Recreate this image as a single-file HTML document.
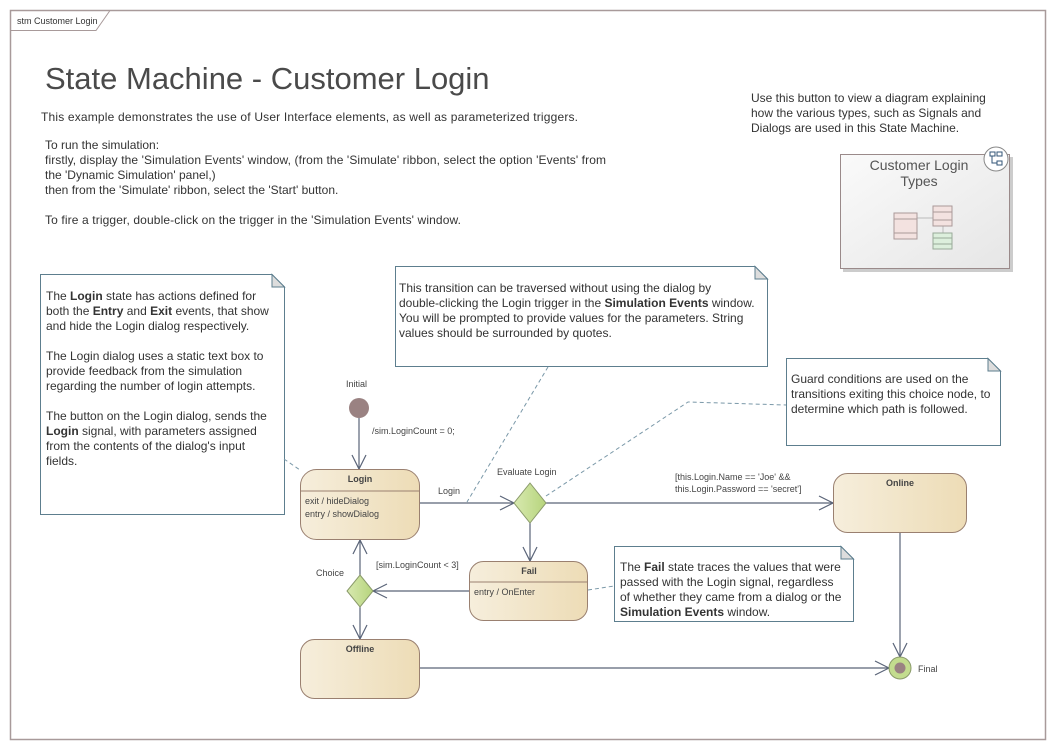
<!DOCTYPE html>
<html><head><meta charset="utf-8"><style>
html,body{margin:0;padding:0;background:#fff}
svg{display:block}
text{font-family:"Liberation Sans",Arial,sans-serif;fill:#333}
.n{font-size:12px}
.s{font-size:9px;fill:#444}
.b{font-weight:bold}
</style></head><body>
<svg width="1056" height="750" viewBox="0 0 1056 750" xmlns="http://www.w3.org/2000/svg">
<defs>
<linearGradient id="st" x1="0" x2="1" y1="0" y2="0"><stop offset="0" stop-color="#f6eedc"/><stop offset="1" stop-color="#eddcb6"/></linearGradient>
<linearGradient id="dm" x1="0" x2="1"><stop offset="0" stop-color="#d8e9b0"/><stop offset="1" stop-color="#b6d47c"/></linearGradient>
<linearGradient id="gr" x1="0" x2="1" y1="0" y2="1"><stop offset="0" stop-color="#fafafa"/><stop offset="1" stop-color="#e6e6e6"/></linearGradient>
</defs>
<rect x="10.5" y="10.5" width="1035" height="729" fill="#fff" stroke="#a89a9a" stroke-width="1.5"/>
<path d="M10.5 30.5 H96 L110 10.5" fill="none" stroke="#a89a9a"/>
<text x="17" y="24" style="font-size:9px">stm Customer Login</text>

<text x="45" y="89" style="font-size:31px;fill:#4a4a4a">State Machine - Customer Login</text>
<text class="n" x="41" y="121" textLength="537">This example demonstrates the use of User Interface elements, as well as parameterized triggers.</text>
<text class="n" x="45" y="149">To run the simulation:</text>
<text class="n" x="45" y="164" textLength="561">firstly, display the 'Simulation Events' window, (from the 'Simulate' ribbon, select the option 'Events' from</text>
<text class="n" x="45" y="179">the 'Dynamic Simulation' panel,)</text>
<text class="n" x="45" y="194">then from the 'Simulate' ribbon, select the 'Start' button.</text>
<text class="n" x="45" y="224" textLength="416">To fire a trigger, double-click on the trigger in the 'Simulation Events' window.</text>

<text class="n" x="751" y="102">Use this button to view a diagram explaining</text>
<text class="n" x="751" y="117">how the various types, such as Signals and</text>
<text class="n" x="751" y="132">Dialogs are used in this State Machine.</text>

<rect x="843" y="157" width="170" height="115" fill="#ccc"/>
<rect x="840.5" y="154.5" width="169" height="114" fill="url(#gr)" stroke="#9a8a8a"/>
<text x="919" y="170" text-anchor="middle" style="font-size:14px;fill:#555">Customer Login</text>
<text x="919" y="186" text-anchor="middle" style="font-size:14px;fill:#555">Types</text>
<circle cx="996" cy="159" r="12" fill="#fff" stroke="#888"/>
<rect x="990" y="152" width="5" height="4" fill="none" stroke="#357"/><rect x="997" y="152" width="5" height="4" fill="none" stroke="#357"/><rect x="997" y="161" width="5" height="4" fill="none" stroke="#357"/>
<path d="M992 156 V163 H997" fill="none" stroke="#357"/>
<line x1="917" y1="218" x2="933" y2="218" stroke="#bbb"/><line x1="943" y1="226" x2="943" y2="233" stroke="#bbb"/>
<rect x="894" y="213" width="23" height="26" fill="#f3e2e0" stroke="#a99"/><line x1="894" y1="219" x2="917" y2="219" stroke="#a99"/><line x1="894" y1="233" x2="917" y2="233" stroke="#a99"/>
<rect x="933" y="206" width="19" height="20" fill="#f3e2e0" stroke="#a99"/><line x1="933" y1="212" x2="952" y2="212" stroke="#a99"/><line x1="933" y1="220" x2="952" y2="220" stroke="#a99"/>
<rect x="933" y="233" width="19" height="16" fill="#dcefdc" stroke="#9a9"/><line x1="933" y1="238" x2="952" y2="238" stroke="#9a9"/><line x1="933" y1="244" x2="952" y2="244" stroke="#9a9"/>

<g fill="#fff" stroke="#5d7e8e">
<path d="M40.5 274.5 H272 L284.5 287 V514.5 H40.5 Z"/>
<path d="M395.5 266.5 H755 L767.5 279 V366.5 H395.5 Z"/>
<path d="M786.5 358.5 H988 L1000.5 371 V445.5 H786.5 Z"/>
<path d="M614.5 546.5 H841 L853.5 559 V621.5 H614.5 Z"/>
</g>
<g fill="#ddd" stroke="#5d7e8e">
<path d="M272 274.5 V287 H284.5 Z"/><path d="M755 266.5 V279 H767.5 Z"/><path d="M988 358.5 V371 H1000.5 Z"/><path d="M841 546.5 V559 H853.5 Z"/>
</g>
<g class="n">
<text class="n" x="46" y="300">The <tspan class="b">Login</tspan> state has actions defined for</text>
<text class="n" x="46" y="315">both the <tspan class="b">Entry</tspan> and <tspan class="b">Exit</tspan> events, that show</text>
<text class="n" x="46" y="330">and hide the Login dialog respectively.</text>
<text class="n" x="46" y="360">The Login dialog uses a static text box to</text>
<text class="n" x="46" y="375">provide feedback from the simulation</text>
<text class="n" x="46" y="390">regarding the number of login attempts.</text>
<text class="n" x="46" y="420">The button on the Login dialog, sends the</text>
<text class="n" x="46" y="435"><tspan class="b">Login</tspan> signal, with parameters assigned</text>
<text class="n" x="46" y="450">from the contents of the dialog's input</text>
<text class="n" x="46" y="465">fields.</text>

<text class="n" x="399" y="292">This transition can be traversed without using the dialog by</text>
<text class="n" x="399" y="307">double-clicking the Login trigger in the <tspan class="b">Simulation Events</tspan> window.</text>
<text class="n" x="399" y="322">You will be prompted to provide values for the parameters.  String</text>
<text class="n" x="399" y="337">values should be surrounded by quotes.</text>

<text class="n" x="791" y="383">Guard conditions are used on the</text>
<text class="n" x="791" y="398">transitions exiting this choice node, to</text>
<text class="n" x="791" y="413">determine which path is followed.</text>

<text class="n" x="620" y="571">The <tspan class="b">Fail</tspan> state traces the values that were</text>
<text class="n" x="620" y="586">passed with the Login signal, regardless</text>
<text class="n" x="620" y="601">of whether they came from a dialog or the</text>
<text class="n" x="620" y="616"><tspan class="b">Simulation Events</tspan> window.</text>
</g>

<g stroke="#7a98a8" stroke-dasharray="4,3" fill="none">
<line x1="284" y1="459" x2="300" y2="470"/>
<line x1="548" y1="367" x2="467" y2="502"/>
<polyline points="546,496 688,402 786,405"/>
<line x1="588" y1="590" x2="614" y2="586"/>
</g>

<g stroke="#5a6478" stroke-width="1.2" fill="none">
<line x1="359" y1="418" x2="359" y2="469"/><polyline points="352,455 359,469 366,455"/>
<line x1="420" y1="503" x2="514" y2="503"/><polyline points="500,496 514,503 500,510"/>
<line x1="546" y1="503" x2="833" y2="503"/><polyline points="819,496 833,503 819,510"/>
<line x1="530" y1="523" x2="530" y2="561"/><polyline points="523,547 530,561 537,547"/>
<line x1="469" y1="591" x2="373" y2="591"/><polyline points="387,584 373,591 387,598"/>
<line x1="360" y1="575" x2="360" y2="540"/><polyline points="353,554 360,540 367,554"/>
<line x1="360" y1="607" x2="360" y2="639"/><polyline points="353,625 360,639 367,625"/>
<line x1="420" y1="668" x2="889" y2="668"/><polyline points="875,661 889,668 875,675"/>
<line x1="900" y1="532" x2="900" y2="657"/><polyline points="893,643 900,657 907,643"/>
</g>
<text class="s" x="346" y="387">Initial</text>
<text class="s" x="372" y="434">/sim.LoginCount = 0;</text>
<text class="s" x="438" y="494">Login</text>
<text class="s" x="497" y="475">Evaluate Login</text>
<text class="s" x="675" y="480">[this.Login.Name == 'Joe' &amp;&amp;</text>
<text class="s" x="675" y="492">this.Login.Password == 'secret']</text>
<text class="s" x="376" y="568">[sim.LoginCount &lt; 3]</text>
<text class="s" x="316" y="576">Choice</text>
<text class="s" x="918" y="672">Final</text>

<circle cx="359" cy="408" r="10" fill="#9a8282"/>
<g stroke="#9a8070" fill="url(#st)">
<rect x="300.5" y="469.5" width="119" height="70" rx="16"/>
<rect x="469.5" y="561.5" width="118" height="59" rx="14"/>
<rect x="300.5" y="639.5" width="119" height="59" rx="14"/>
<rect x="833.5" y="473.5" width="133" height="59" rx="14"/>
</g>
<line x1="300.5" y1="491" x2="419.5" y2="491" stroke="#9a8070"/>
<line x1="469.5" y1="582" x2="587.5" y2="582" stroke="#9a8070"/>
<text class="s b" x="360" y="482" text-anchor="middle">Login</text>
<text class="s" x="305" y="504">exit / hideDialog</text>
<text class="s" x="305" y="517">entry / showDialog</text>
<text class="s b" x="529" y="574" text-anchor="middle">Fail</text>
<text class="s" x="474" y="595">entry / OnEnter</text>
<text class="s b" x="360" y="652" text-anchor="middle">Offline</text>
<text class="s b" x="900" y="486" text-anchor="middle">Online</text>
<path d="M530 483 L546 503 L530 523 L514 503 Z" fill="url(#dm)" stroke="#8a9a6a"/>
<path d="M360 575 L373 591 L360 607 L347 591 Z" fill="url(#dm)" stroke="#8a9a6a"/>
<circle cx="900" cy="668" r="11" fill="#c3dc8e" stroke="#8a9a6a"/>
<circle cx="900" cy="668" r="5.5" fill="#9a8282"/>
</svg>
</body></html>
